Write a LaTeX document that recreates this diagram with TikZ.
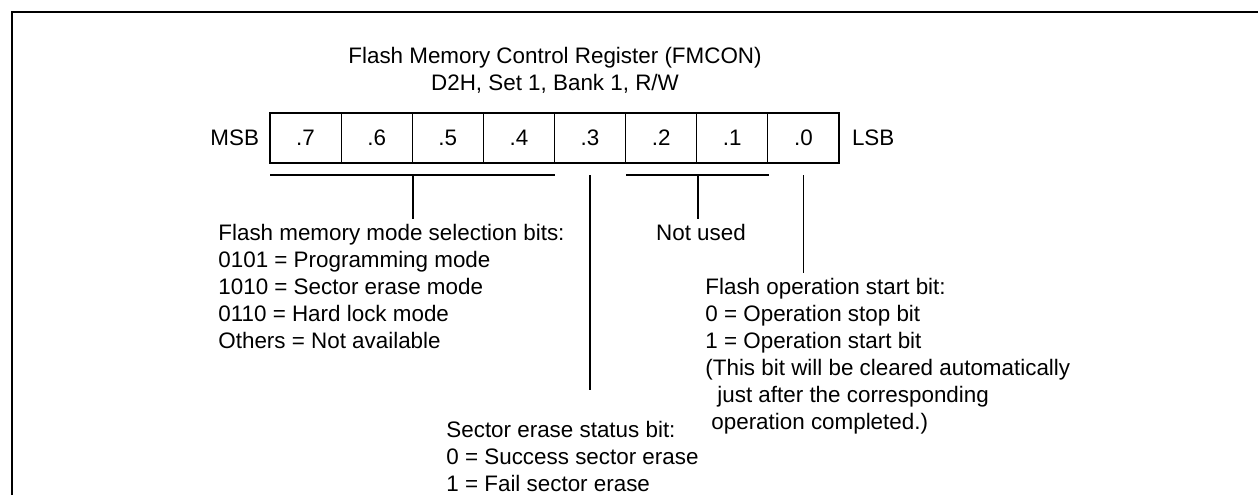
\documentclass[tikz,border=0pt]{standalone}
\usepackage{fontspec}
\setmainfont{Liberation Sans}
\usetikzlibrary{positioning}

\begin{document}
\begin{tikzpicture}[
    x=0.5pt, y=-0.5pt,
    txt/.style={
        font=\fontsize{11.2}{13.5}\selectfont,
        inner sep=0pt
    },
    block/.style={
        txt,
        align=left,
        anchor=north west
    },
    bitcell/.style={
        rectangle,
        draw=black,
        line width=0.6pt,
        minimum width=35.56pt,
        minimum height=25pt,
        inner sep=0pt,
        font=\fontsize{11.2}{13.5}\selectfont
    },
    frameline/.style={line width=1.1pt},
    bracket/.style={line width=0.7pt}
]
\useasboundingbox (0,0) rectangle (1258,495);

% --- Marco ---
\draw[frameline] (12,495) -- (12,12) -- (1258,12);

% --- Titulo ---
\node[txt, align=center, anchor=north] (title) at (555,47)
    {Flash Memory Control Register (FMCON)\\D2H, Set 1, Bank 1, R/W};

% --- Celdas del registro ---
\foreach \i in {7,...,0}
    \node[bitcell] (b\i) at ({270+71.125*(7-\i)+35.5625},138) {.\i};

\node[txt, anchor=east] (msb) at ([xshift=-5pt]b7.west) {MSB};
\node[txt, anchor=west] (lsb) at ([xshift=6pt]b0.east) {LSB};

% --- Corchetes ---
\coordinate (m0) at (270,175);
\coordinate (m1) at (555,175);
\coordinate (mm) at (413,175);
\coordinate (n0) at (626,175);
\coordinate (n1) at (769,175);
\coordinate (nm) at (698,175);
\coordinate (s0) at (b3.center |- m0);
\coordinate (f0) at (b0.center |- m0);

% --- Textos ---
\node[block] (modetext) at (218,224)
    {Flash memory mode selection bits:\\
     0101 = Programming mode\\
     1010 = Sector erase mode\\
     0110 = Hard lock mode\\
     Others = Not available};
\node[txt, anchor=north] (notused) at (701,224) {Not used};
\node[block] (starttext) at (705,278)
    {Flash operation start bit:\\
     0 = Operation stop bit\\
     1 = Operation start bit\\
     (This bit will be cleared automatically\\
     \hspace{6pt}just after the corresponding\\
     \hspace{3pt}operation completed.)};
\node[block] (statustext) at (446,421)
    {Sector erase status bit:\\
     0 = Success sector erase\\
     1 = Fail sector erase};

% --- Lineas ---
\draw[bracket] (m0) -- (m1);
\draw[bracket] (mm) -- (mm |- 0,219);
\draw[bracket] (n0) -- (n1);
\draw[bracket] (nm) -- (nm |- 0,219);
\draw[bracket] (s0) -- (s0 |- 0,390);
\draw[bracket] (f0) -- (f0 |- 0,273);

\end{tikzpicture}
\end{document}
